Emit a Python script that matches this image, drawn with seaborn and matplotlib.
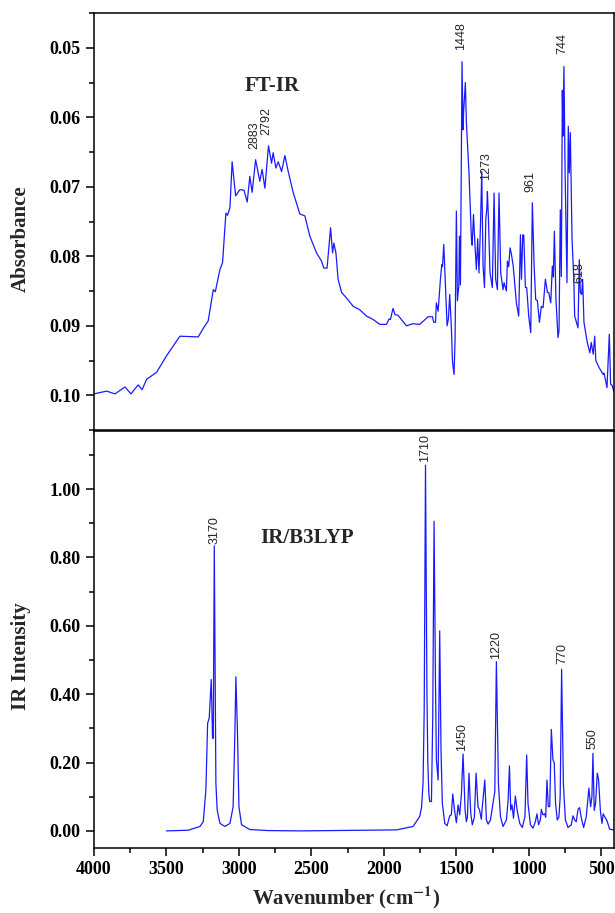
import matplotlib
matplotlib.use("Agg")
import matplotlib.pyplot as plt
import seaborn as sns
from matplotlib.ticker import MultipleLocator, FormatStrFormatter

# -----------------------------
# Data
# -----------------------------
ftir_wn = [4000, 3912, 3855, 3786, 3745, 3695, 3668, 3637, 3568, 3499, 3407, 3281,
           3241, 3212, 3177, 3163, 3131, 3113, 3090, 3079, 3062, 3047, 3023, 2993,
           2965, 2943, 2925, 2909, 2885, 2856, 2840, 2821, 2796, 2775, 2764, 2745,
           2729, 2706, 2683, 2660, 2626, 2580, 2545, 2511, 2465, 2430, 2414, 2392,
           2368, 2354, 2345, 2331, 2316, 2292, 2258, 2212, 2166, 2120, 2074, 2028,
           1982, 1964, 1955, 1937, 1923, 1902, 1872, 1844, 1799, 1753, 1695, 1665,
           1656, 1644, 1638, 1626, 1610, 1601, 1596, 1587, 1573, 1564, 1555, 1546,
           1534, 1527, 1516, 1509, 1500, 1493, 1483, 1479, 1472, 1461, 1454, 1450,
           1438, 1431, 1413, 1396, 1391, 1382, 1371, 1362, 1353, 1344, 1334, 1325,
           1316, 1306, 1297, 1290, 1286, 1279, 1268, 1252, 1240, 1229, 1217, 1206,
           1194, 1178, 1171, 1155, 1148, 1139, 1130, 1121, 1108, 1086, 1070, 1058,
           1051, 1042, 1035, 1024, 1015, 1001, 987, 976, 964, 953, 941, 927, 914,
           902, 886, 872, 863, 849, 838, 831, 824, 813, 799, 792, 783, 776, 769,
           765, 758, 750, 737, 728, 721, 714, 702, 690, 684, 661, 652, 645, 636,
           629, 620, 597, 579, 570, 556, 546, 538, 516, 488, 481, 461, 445, 436,
           425, 413]
ftir_abs = [0.0998, 0.0994, 0.0998, 0.0988, 0.0998, 0.0985, 0.0992, 0.0977, 0.0967,
            0.0943, 0.0915, 0.0916, 0.0902, 0.0893, 0.0848, 0.0851, 0.0819, 0.0809,
            0.0738, 0.0741, 0.0730, 0.0664, 0.0713, 0.0704, 0.0705, 0.0722, 0.0685,
            0.0708, 0.0661, 0.0692, 0.0675, 0.0702, 0.0641, 0.0666, 0.0651, 0.0673,
            0.0664, 0.0678, 0.0655, 0.0678, 0.0708, 0.0739, 0.0742, 0.0771, 0.0795,
            0.0807, 0.0817, 0.0817, 0.0759, 0.0795, 0.0781, 0.0795, 0.0833, 0.0852,
            0.0860, 0.0872, 0.0877, 0.0886, 0.0891, 0.0898, 0.0898, 0.0890, 0.0891,
            0.0875, 0.0884, 0.0885, 0.0893, 0.0900, 0.0897, 0.0898, 0.0887, 0.0887,
            0.0895, 0.0895, 0.0867, 0.0879, 0.0833, 0.0812, 0.0815, 0.0783, 0.0852,
            0.0900, 0.0890, 0.0855, 0.0905, 0.0951, 0.0970, 0.0919, 0.0735, 0.0864,
            0.0842, 0.0771, 0.0841, 0.0520, 0.0618, 0.0592, 0.0550, 0.0607, 0.0680,
            0.0776, 0.0784, 0.0740, 0.0787, 0.0819, 0.0775, 0.0824, 0.0757, 0.0678,
            0.0814, 0.0845, 0.0747, 0.0731, 0.0707, 0.0745, 0.0824, 0.0845, 0.0709,
            0.0833, 0.0848, 0.0709, 0.0824, 0.0848, 0.0838, 0.0850, 0.0807, 0.0815,
            0.0788, 0.0796, 0.0814, 0.0867, 0.0886, 0.0769, 0.0833, 0.0769, 0.0770,
            0.0845, 0.0845, 0.0886, 0.0910, 0.0723, 0.0812, 0.0862, 0.0864, 0.0895,
            0.0872, 0.0874, 0.0833, 0.0852, 0.0852, 0.0867, 0.0814, 0.0830, 0.0764,
            0.0862, 0.0917, 0.0907, 0.0733, 0.0829, 0.0561, 0.0627, 0.0527, 0.0680,
            0.0838, 0.0613, 0.0680, 0.0622, 0.0776, 0.0833, 0.0886, 0.0903, 0.0805,
            0.0852, 0.0855, 0.0833, 0.0895, 0.0924, 0.0939, 0.0924, 0.0941, 0.0915,
            0.0950, 0.0960, 0.0970, 0.0968, 0.0989, 0.0912, 0.0984, 0.0986, 0.0995]

calc_wn = [3500, 3350, 3269, 3246, 3228, 3216, 3205, 3191, 3182, 3177, 3170, 3159,
           3150, 3131, 3097, 3062, 3040, 3028, 3021, 3010, 3000, 2982, 2925, 2800,
           2580, 1913, 1799, 1753, 1740, 1730, 1722, 1716, 1713, 1708, 1703, 1697,
           1690, 1684, 1672, 1663, 1654, 1644, 1638, 1626, 1615, 1606, 1597, 1580,
           1564, 1546, 1535, 1525, 1513, 1500, 1488, 1477, 1465, 1454, 1440, 1431,
           1424, 1413, 1401, 1390, 1376, 1364, 1351, 1340, 1328, 1321, 1304, 1293,
           1281, 1265, 1247, 1235, 1224, 1210, 1196, 1178, 1155, 1143, 1134, 1125,
           1116, 1106, 1093, 1081, 1063, 1045, 1027, 1015, 1006, 989, 971, 955,
           944, 933, 921, 914, 903, 891, 884, 875, 866, 856, 845, 834, 825, 816,
           804, 793, 784, 774, 762, 748, 730, 707, 696, 684, 673, 661, 650, 638,
           622, 604, 586, 574, 565, 558, 549, 540, 528, 519, 507, 496, 487, 475,
           461, 443, 413]
calc_int = [0.0, 0.002, 0.013, 0.027, 0.12, 0.315, 0.33, 0.443, 0.271, 0.271, 0.834,
            0.14, 0.061, 0.022, 0.013, 0.022, 0.071, 0.286, 0.451, 0.286, 0.071,
            0.018, 0.004, 0.001, 0.0, 0.003, 0.013, 0.042, 0.07, 0.14, 0.35, 0.8,
            1.07, 0.75, 0.4, 0.2, 0.11, 0.086, 0.086, 0.334, 0.906, 0.432, 0.208,
            0.149, 0.585, 0.237, 0.081, 0.022, 0.015, 0.044, 0.047, 0.108, 0.061,
            0.024, 0.076, 0.047, 0.11, 0.225, 0.061, 0.027, 0.04, 0.169, 0.052,
            0.018, 0.04, 0.169, 0.071, 0.061, 0.034, 0.071, 0.149, 0.032, 0.02,
            0.032, 0.081, 0.115, 0.495, 0.139, 0.042, 0.013, 0.032, 0.091, 0.19,
            0.061, 0.076, 0.037, 0.102, 0.061, 0.022, 0.01, 0.042, 0.222, 0.081,
            0.018, 0.008, 0.027, 0.05, 0.018, 0.032, 0.063, 0.047, 0.05, 0.04,
            0.149, 0.071, 0.071, 0.297, 0.208, 0.2, 0.081, 0.032, 0.04, 0.1, 0.473,
            0.139, 0.032, 0.01, 0.018, 0.044, 0.032, 0.027, 0.063, 0.068, 0.037,
            0.01, 0.042, 0.125, 0.071, 0.1, 0.227, 0.06, 0.08, 0.169, 0.149, 0.061,
            0.022, 0.05, 0.04, 0.03, 0.005, 0.003]

# peak labels: text, x, y (anchor just above the peak)
ftir_labels = ["2883", "2792", "1448", "1273", "961", "744", "618"]
ftir_lab_x = [2897, 2809, 1465, 1298, 987, 771, 650]
ftir_lab_y = [0.0645, 0.0625, 0.0503, 0.0690, 0.0707, 0.0509, 0.0838]

calc_labels = ["3170", "1710", "1450", "1220", "770", "550"]
calc_lab_x = [3170, 1713, 1458, 1224, 771, 558]
calc_lab_y = [0.838, 1.078, 0.234, 0.504, 0.487, 0.241]

# -----------------------------
# Style
# -----------------------------
sns.set_theme(style="ticks")
plt.rcParams["font.family"] = ["Liberation Serif", "DejaVu Serif"]
plt.rcParams["font.weight"] = "bold"
plt.rcParams["mathtext.fontset"] = "stix"
plt.rcParams["axes.edgecolor"] = "black"
plt.rcParams["axes.linewidth"] = 1.1

LINE = "#1a1aff"

fig = plt.figure(figsize=(6.15, 9.13), dpi=100)
ax1 = fig.add_axes([0.1528, 0.529, 0.8455, 0.4567])
ax2 = fig.add_axes([0.1528, 0.0712, 0.8455, 0.4567])

sns.lineplot(x=ftir_wn, y=ftir_abs, ax=ax1, color=LINE, lw=0.9,
             sort=False, estimator=None)
sns.lineplot(x=calc_wn, y=calc_int, ax=ax2, color=LINE, lw=0.9,
             sort=False, estimator=None)

# -----------------------------
# Axes
# -----------------------------
for ax in (ax1, ax2):
    ax.set_xlim(4000, 413)
    ax.xaxis.set_major_locator(MultipleLocator(500))
    ax.xaxis.set_minor_locator(MultipleLocator(250))
    ax.tick_params(axis="both", which="both", direction="out", colors="black",
                   width=1.1, labelsize=13)
    ax.tick_params(axis="y", which="major", length=6)
    ax.tick_params(axis="y", which="minor", length=3.5)
    for sp in ax.spines.values():
        sp.set_color("black")
        sp.set_linewidth(1.1)

ax1.set_ylim(0.105, 0.045)
ax1.yaxis.set_major_locator(MultipleLocator(0.01))
ax1.yaxis.set_minor_locator(MultipleLocator(0.005))
ax1.yaxis.set_major_formatter(FormatStrFormatter("%.2f"))
ax1.tick_params(axis="x", which="both", length=2.5, labelbottom=False)
ax1.set_ylabel("Absorbance", fontsize=15, fontweight="bold")
ax1.yaxis.set_label_coords(-0.121, 0.458)
ax1.set_xlabel("")

ax2.set_ylim(-0.05, 1.17)
ax2.yaxis.set_major_locator(MultipleLocator(0.2))
ax2.yaxis.set_minor_locator(MultipleLocator(0.1))
ax2.yaxis.set_major_formatter(FormatStrFormatter("%.2f"))
ax2.xaxis.set_major_formatter(FormatStrFormatter("%d"))
ax2.tick_params(axis="x", which="major", length=6)
ax2.tick_params(axis="x", which="minor", length=3.5)
ax2.set_ylabel("IR Intensity", fontsize=15, fontweight="bold")
ax2.yaxis.set_label_coords(-0.121, 0.46)
ax2.set_xlabel("Wavenumber (cm$^{-1}$)", fontsize=15, fontweight="bold")
ax2.xaxis.set_label_coords(0.485, -0.088)

# titles inside panels
ax1.text(2769, 0.0555, "FT-IR", ha="center", va="center",
         fontsize=15, fontweight="bold")
ax2.text(2531, 0.858, "IR/B3LYP", ha="center", va="center",
         fontsize=15, fontweight="bold")

# peak labels
for s, x, y in zip(ftir_labels, ftir_lab_x, ftir_lab_y):
    ax1.text(x, y, s, rotation=90, ha="center", va="bottom", fontsize=9,
             family=["Liberation Sans", "DejaVu Sans"], fontweight="normal")
for s, x, y in zip(calc_labels, calc_lab_x, calc_lab_y):
    ax2.text(x, y, s, rotation=90, ha="center", va="bottom", fontsize=9,
             family=["Liberation Sans", "DejaVu Sans"], fontweight="normal")

fig.savefig("out.png", dpi=100)
plt.close(fig)
